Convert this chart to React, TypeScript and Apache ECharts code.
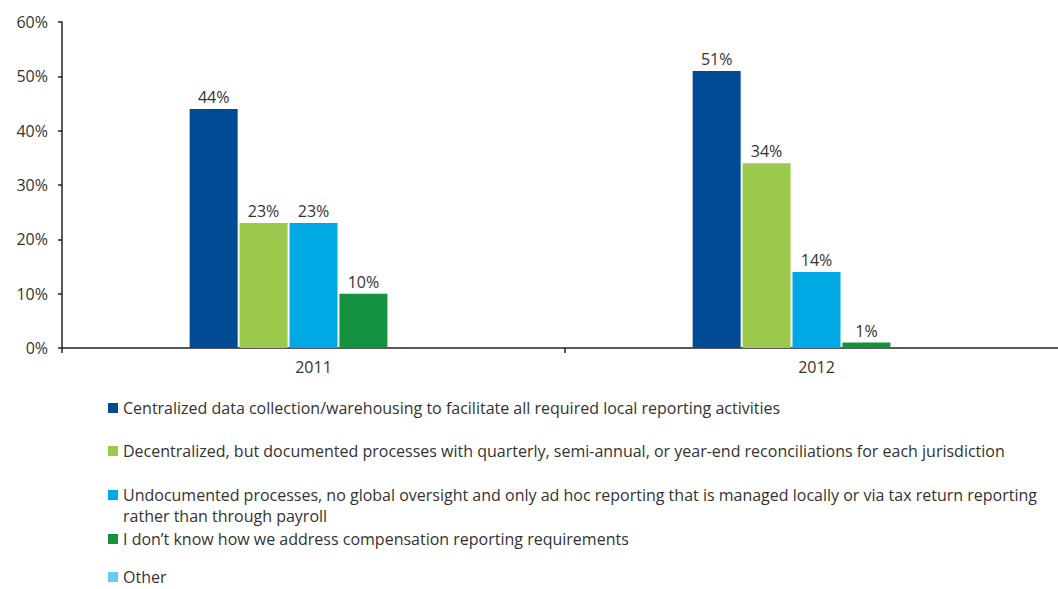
import React, { useEffect, useRef } from "react";
import * as echarts from "echarts";

const categories = ["2011", "2012"];
const seriesNames = [
  "Centralized data collection/warehousing to facilitate all required local reporting activities",
  "Decentralized, but documented processes with quarterly, semi-annual, or year-end reconciliations for each jurisdiction",
  "Undocumented processes, no global oversight and only ad hoc reporting that is managed locally or via tax return reporting rather than through payroll",
  "I don\u2019t know how we address compensation reporting requirements",
  "Other",
];
const centralized = [44, 51];
const decentralized = [23, 34];
const undocumented = [23, 14];
const dontKnow = [10, 1];
const other = [0, 0];
const yTicks = [0, 10, 20, 30, 40, 50, 60];

const colors = ["#004b93", "#9bc94b", "#00a9e6", "#14923f", "#66ccf0"];
const font = "'Open Sans', 'Noto Sans', sans-serif";
const textColor = "#333333";
const fs = 16;

export default function App() {
  const ref = useRef<HTMLDivElement>(null);
  useEffect(() => {
    if (!ref.current) return;
    const chart = echarts.init(ref.current, undefined, { renderer: "svg" });
    const values = [centralized, decentralized, undocumented, dontKnow, other];
    const legendTops = [400, 443, 487, 531, 569];
    const legendLabels = [
      seriesNames[0],
      seriesNames[1],
      "Undocumented processes, no global oversight and only ad hoc reporting that is managed locally or via tax return reporting",
      seriesNames[3],
      seriesNames[4],
    ];
    chart.setOption({
      animation: false,
      color: colors,
      grid: { left: 62, right: 0, top: 22, bottom: 241, containLabel: false },
      xAxis: {
        type: "category",
        data: categories,
        axisLine: { lineStyle: { color: "#222", width: 1.5 } },
        axisTick: { show: true, length: 5, lineStyle: { color: "#222", width: 1.5 } },
        axisLabel: { color: textColor, fontSize: fs, fontFamily: font, margin: 11 },
      },
      yAxis: {
        type: "value",
        min: yTicks[0],
        max: yTicks[yTicks.length - 1],
        interval: 10,
        splitLine: { show: false },
        axisLine: { show: true, lineStyle: { color: "#222", width: 1.5 } },
        axisTick: { show: true, length: 4, lineStyle: { color: "#222", width: 1.5 } },
        axisLabel: {
          color: textColor,
          fontSize: fs,
          fontFamily: font,
          margin: 14,
          formatter: "{value}%",
        },
      },
      legend: seriesNames.map((n, i) => ({
        data: [n],
        orient: "vertical",
        left: 108,
        top: legendTops[i],
        icon: "rect",
        itemWidth: 10,
        itemHeight: 10,
        itemGap: 5,
        padding: 0,
        selectedMode: false,
        textStyle: { color: textColor, fontSize: fs, fontFamily: font },
        formatter: () => legendLabels[i],
      })),
      graphic: [
        {
          type: "text",
          left: 123,
          top: 507,
          style: {
            text: "rather than through payroll",
            fill: textColor,
            font: `${fs}px ${font}`,
            lineHeight: 18,
          },
        },
      ],
      series: seriesNames.map((n, i) => ({
        name: n,
        type: "bar",
        data: values[i],
        barWidth: 48,
        barGap: "4%",
        itemStyle: { color: colors[i] },
        label: {
          show: i < 4,
          position: "top",
          distance: 4,
          color: textColor,
          fontSize: fs,
          fontFamily: font,
          formatter: "{c}%",
        },
      })),
    });
    return () => chart.dispose();
  }, []);
  return (
    <div style={{ position: "fixed", left: 0, top: 0, width: 1058, height: 589, overflow: "hidden" }}>
      <div ref={ref} style={{ width: 1068, height: 589, background: "#fff" }} />
    </div>
  );
}
